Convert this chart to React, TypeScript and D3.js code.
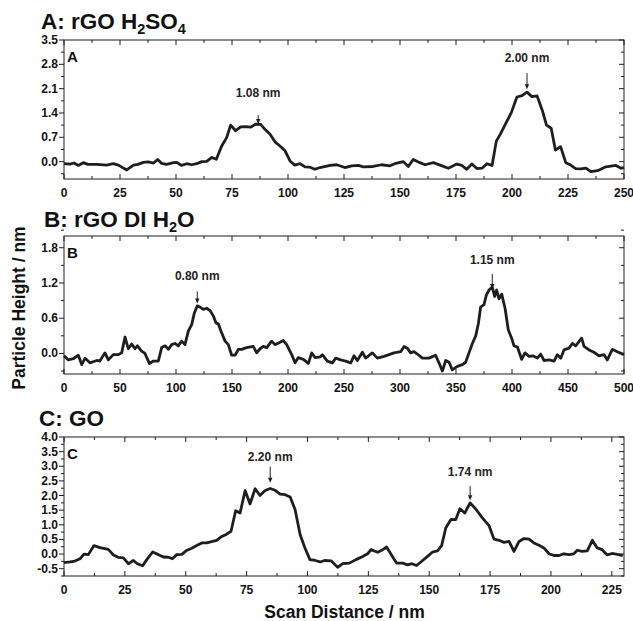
import React from "react";
import * as d3 from "d3";

// ---------- DATA ----------
const aX = [0,2.7,4.5,6.4,8.6,10.7,14.6,19,22,24.3,28,31,33,35.4,37.6,40,41.8,43.6,45.8,48.8,50.3,52.5,54.8,57,59.2,61.5,63.7,66,68,70.4,72.6,74.4,76.6,78.9,81.1,83.3,85.6,87.8,89.7,92,94.2,96.4,98.7,100.9,103,105.4,107.6,109.8,112,114.3,118.8,121.7,125.4,128.4,131.4,133.6,138,141.8,145.5,147.7,151.5,153.7,155.9,158.9,161.2,164.9,167.9,171.6,175.3,177.6,179.8,182.1,184.3,186.6,188.8,191.1,193,194.8,197,199.7,202.2,204.5,206.7,208.9,211.2,213.5,215.4,217.5,219.4,221.7,224,226.2,228.4,230.7,233,235.2,238.2,241.9,246.4,248.7,250];
const aY = [-0.06,-0.07,-0.04,-0.11,-0.03,-0.08,-0.08,-0.1,-0.06,-0.1,-0.24,-0.1,-0.08,-0.02,-0.01,-0.04,0.06,-0.05,-0.08,-0.03,-0.02,-0.11,-0.06,-0.09,-0.06,0,0.01,0.12,0.07,0.45,0.69,1.05,0.89,1.0,1.01,0.99,1.08,1.07,0.93,0.79,0.57,0.45,0.31,0.02,-0.1,-0.06,-0.15,-0.16,-0.22,-0.17,-0.11,-0.09,-0.17,-0.12,-0.11,-0.15,-0.14,-0.09,-0.12,-0.06,0,-0.14,0.06,-0.03,-0.09,-0.03,-0.1,-0.19,-0.07,-0.11,-0.22,-0.07,-0.2,-0.19,-0.06,-0.11,0.59,0.79,1.07,1.41,1.86,1.9,2.0,1.87,1.89,1.48,1.05,0.96,0.33,0.43,-0.03,-0.1,-0.2,-0.21,-0.19,-0.29,-0.26,-0.15,-0.11,-0.19,-0.17];

const bX = [0,3.9,8.3,12.8,15.8,18.8,23.2,29.2,32,36.6,39.6,44,48.5,51.5,54.5,57.4,60.4,63.4,65.5,69.3,72.3,76.2,79.8,84.2,87.2,90.2,93.2,96.1,99.1,102,105,108,111,114,116.4,119,121.4,124.4,127.4,130.4,133.3,135.7,137.8,140.8,143.8,146.7,149.7,152.7,155.7,158.6,163,169,172,175,178,181,185.4,188.4,192.9,195.8,198.8,203.3,206.3,209.2,213.7,218.2,221.1,224.1,228.6,230.7,235.1,239.6,242.6,247,251.5,256,258.9,261.9,266.4,269.3,275.3,279.8,285.7,290.2,294.6,300.6,303.6,306.5,309.5,312.5,315.5,320,325.9,331.8,334.8,337.8,340.8,343.8,346.7,351.2,355.7,358.6,361.6,364.6,367.6,370,372,375,377,379.5,382.4,384.5,386.3,388.4,390.8,393.8,396.7,399.7,401.8,404.8,408.6,411.6,415.2,418.8,422.6,425.6,428.6,433,437.5,440.5,443.5,446.4,450.9,453.9,456.8,459.8,462.2,464.3,468.8,473.2,477.7,482.1,485.1,489.6,494,500];
const bY = [-0.04,-0.11,-0.09,-0.03,-0.19,-0.08,-0.16,-0.12,-0.13,0.01,-0.11,-0.02,-0.02,0.01,0.28,0.08,0.16,0.08,0.13,0.04,0,-0.17,-0.13,-0.13,0.1,0.13,0.07,0.15,0.17,0.13,0.21,0.15,0.38,0.49,0.69,0.81,0.79,0.75,0.77,0.73,0.64,0.52,0.5,0.35,0.21,0.15,-0.03,-0.03,0.07,0.07,0.1,0.12,0.01,0.08,0.12,0.1,0.21,0.15,0.19,0.22,0.15,-0.02,-0.16,-0.07,-0.1,-0.17,0.01,-0.07,-0.06,-0.02,-0.13,-0.16,-0.08,-0.11,-0.13,-0.16,-0.04,-0.12,0.02,-0.08,0.01,-0.08,-0.05,-0.02,0.01,0.03,0.12,0.09,0.01,0.03,-0.01,-0.08,-0.08,-0.03,-0.16,-0.3,-0.12,-0.15,-0.28,-0.22,-0.19,-0.15,0.01,0.17,0.3,0.51,0.79,0.83,0.99,1.08,1.13,0.97,1.08,0.93,1.01,0.77,0.4,0.26,0.13,0.11,-0.1,0.01,-0.05,-0.04,-0.08,-0.01,-0.12,-0.11,-0.13,-0.02,-0.08,0.06,0.09,0.17,0.13,0.2,0.26,0.12,0.06,0.02,-0.04,-0.02,-0.11,0.07,0.03,-0.02];

const cX = [0,2.5,4.5,6.6,8.2,10,12.3,14.8,18.2,20.3,22.3,24.4,26.4,28.5,30.1,32.3,34,36.4,38.8,40.8,42.9,44.5,46.3,48.4,50.1,52.5,54.5,56.6,58.6,61,62.7,64.8,66.8,68.6,70.5,72.3,74.4,76.4,78.5,80.5,82.6,84.7,86.7,88.8,90.8,92.9,94.9,97,99,101,103.2,105.2,107,109.7,112.4,114.5,117.2,119.9,122.7,124.7,126.1,128.8,130.9,132.5,134.7,136.6,139.1,141.1,142.9,144.8,147.3,149.3,151.4,153.4,155.1,156.8,158.9,160.9,162.6,164.6,166.8,169.1,171.9,174.6,176.6,178.7,180.7,182.8,184.8,186.9,188.9,191,193,195.1,197.1,199.2,201.2,203.3,205.3,207.4,209.4,210.8,212.8,214.9,217,219,221,223.1,225.1,227.2,229.5];
const cY = [-0.29,-0.27,-0.24,-0.16,0,-0.02,0.29,0.22,0.16,-0.03,-0.11,-0.13,-0.33,-0.22,-0.33,-0.4,-0.19,0.07,-0.02,-0.1,-0.11,-0.16,-0.02,-0.01,0.11,0.2,0.29,0.38,0.38,0.43,0.47,0.6,0.68,0.78,1.48,1.4,2.17,1.71,2.23,2.0,2.17,2.24,2.18,2.05,2.03,1.95,1.52,0.66,0.2,-0.19,-0.22,-0.27,-0.22,-0.23,-0.45,-0.33,-0.31,-0.19,-0.08,0.01,0.15,0.06,0.15,0.24,-0.06,-0.31,-0.31,-0.37,-0.33,-0.39,-0.22,-0.08,0.07,0.11,0.29,0.89,1.18,1.18,1.55,1.4,1.75,1.54,1.23,0.97,0.51,0.47,0.4,0.43,0.09,0.43,0.53,0.51,0.38,0.3,0.21,0.01,-0.05,-0.05,0.01,-0.02,0.01,0.13,0.09,0.11,0.47,0.21,0.15,-0.03,0.02,-0.01,-0.05];

// tick values
const aXTicks = [0, 25, 50, 75, 100, 125, 150, 175, 200, 225, 250];
const aYTicks = [0.0, 0.7, 1.4, 2.1, 2.8, 3.5];
const bXTicks = [0, 50, 100, 150, 200, 250, 300, 350, 400, 450, 500];
const bYTicks = [0.0, 0.6, 1.2, 1.8];
const cXTicks = [0, 25, 50, 75, 100, 125, 150, 175, 200, 225];
const cYTicks = [-0.5, 0.0, 0.5, 1.0, 1.5, 2.0, 2.5, 3.0, 3.5, 4.0];

// annotations: x position (nm), height (nm), label
const aAnnX = [86.7, 206.7];
const aAnnY = [1.08, 2.0];
const aAnnLabels = ["1.08 nm", "2.00 nm"];
const bAnnX = [119, 382.4];
const bAnnY = [0.8, 1.15];
const bAnnLabels = ["0.80 nm", "1.15 nm"];
const cAnnX = [84.7, 166.8];
const cAnnY = [2.2, 1.74];
const cAnnLabels = ["2.20 nm", "1.74 nm"];

// ---------- LAYOUT ----------
const FONT = "'Liberation Sans', Arial, Helvetica, sans-serif";
const LEFT = 64;
const RIGHT = 624;
const INK = "#1e1e1e";

type AnnLayout = { tipOff: number; len: number; gap: number };

type PanelProps = {
  top: number;
  bottom: number;
  xs: number[];
  ys: number[];
  xDomain: [number, number];
  yDomain: [number, number];
  xTicks: number[];
  xMinorStep: number;
  yTicks: number[];
  yMinorStep: number;
  yFmt: (v: number) => string;
  letter: string;
  annX: number[];
  annY: number[];
  annLabels: string[];
  annLayout: AnnLayout[];
};

function range(a: number, b: number, step: number) {
  const out: number[] = [];
  const n = Math.round((b - a) / step);
  for (let i = 0; i <= n; i++) out.push(+(a + i * step).toFixed(6));
  return out;
}

function Panel(p: PanelProps) {
  const x = d3.scaleLinear().domain(p.xDomain).range([LEFT, RIGHT]);
  const y = d3.scaleLinear().domain(p.yDomain).range([p.bottom, p.top]);
  const line = d3
    .line<number>()
    .x((_, i) => x(p.xs[i]))
    .y((d) => y(d))
    .curve(d3.curveLinear);
  const xMinor = range(p.xDomain[0], p.xDomain[1], p.xMinorStep).filter(
    (v) => !p.xTicks.some((t) => Math.abs(t - v) < 1e-6)
  );
  const yStart = Math.ceil(p.yDomain[0] / p.yMinorStep - 1e-6) * p.yMinorStep;
  const yMinor = range(yStart, p.yDomain[1], p.yMinorStep).filter(
    (v) => !p.yTicks.some((t) => Math.abs(t - v) < 1e-6) && v >= p.yDomain[0] - 1e-6
  );
  const MAJ = 5;
  const MIN = 3;
  return (
    <g>
      <rect
        x={LEFT}
        y={p.top}
        width={RIGHT - LEFT}
        height={p.bottom - p.top}
        fill="none"
        stroke={INK}
        strokeWidth={1}
      />
      {p.xTicks.map((t) => (
        <g key={"xt" + t}>
          <line x1={x(t)} x2={x(t)} y1={p.bottom} y2={p.bottom - MAJ} stroke={INK} />
          <line x1={x(t)} x2={x(t)} y1={p.top} y2={p.top + MAJ} stroke={INK} />
          <text
            x={x(t)}
            y={p.bottom + 18}
            textAnchor="middle"
            fontFamily={FONT}
            fontWeight="bold"
            fontSize={12}
            fill="#111"
          >
            {t}
          </text>
        </g>
      ))}
      {xMinor.map((t) => (
        <g key={"xm" + t}>
          <line x1={x(t)} x2={x(t)} y1={p.bottom} y2={p.bottom - MIN} stroke={INK} />
          <line x1={x(t)} x2={x(t)} y1={p.top} y2={p.top + MIN} stroke={INK} />
        </g>
      ))}
      {p.yTicks.map((t) => (
        <g key={"yt" + t}>
          <line x1={LEFT} x2={LEFT - MAJ} y1={y(t)} y2={y(t)} stroke={INK} />
          <line x1={RIGHT} x2={RIGHT - MAJ} y1={y(t)} y2={y(t)} stroke={INK} />
          <text
            x={LEFT - 6}
            y={y(t) + 4}
            textAnchor="end"
            fontFamily={FONT}
            fontWeight="bold"
            fontSize={12}
            fill="#111"
          >
            {p.yFmt(t)}
          </text>
        </g>
      ))}
      {yMinor.map((t) => (
        <g key={"ym" + t}>
          <line x1={LEFT} x2={LEFT - MIN} y1={y(t)} y2={y(t)} stroke={INK} />
          <line x1={RIGHT} x2={RIGHT - MIN} y1={y(t)} y2={y(t)} stroke={INK} />
        </g>
      ))}
      <path
        d={line(p.ys) || ""}
        fill="none"
        stroke={INK}
        strokeWidth={2.8}
        strokeLinejoin="round"
      />
      <text
        x={LEFT + 3}
        y={p.top + 22}
        fontFamily={FONT}
        fontWeight="bold"
        fontSize={15}
        fill="#111"
      >
        {p.letter}
      </text>
      {p.annX.map((ax, i) => {
        const L = p.annLayout[i];
        const tip = y(p.annY[i]) - L.tipOff;
        const start = tip - L.len;
        const px = x(ax);
        return (
          <g key={"an" + i}>
            <line x1={px} x2={px} y1={start} y2={tip - 4} stroke={INK} strokeWidth={1} />
            <path
              d={`M${px - 2.2},${tip - 5} L${px + 2.2},${tip - 5} L${px},${tip} Z`}
              fill={INK}
            />
            <text
              x={px}
              y={start - L.gap}
              textAnchor="middle"
              fontFamily={FONT}
              fontWeight="bold"
              fontSize={12}
              fill="#222"
            >
              {p.annLabels[i]}
            </text>
          </g>
        );
      })}
    </g>
  );
}

export default function App() {
  const f1 = (v: number) => v.toFixed(1);
  return (
    <svg
      width={633}
      height={621}
      style={{ position: "absolute", left: 0, top: 0, background: "#fff" }}
    >
      <rect x={0} y={0} width={633} height={621} fill="#fff" />
      <text x={41} y={29} fontFamily={FONT} fontWeight="bold" fontSize={22.5} fill="#111">
        A: rGO H
        <tspan fontSize={14.5} dy={5}>2</tspan>
        <tspan dy={-5}>SO</tspan>
        <tspan fontSize={14.5} dy={5}>4</tspan>
      </text>
      <text x={44} y={227} fontFamily={FONT} fontWeight="bold" fontSize={22.5} fill="#111">
        B: rGO DI H
        <tspan fontSize={14.5} dy={5}>2</tspan>
        <tspan dy={-5}>O</tspan>
      </text>
      <text x={39} y={426} fontFamily={FONT} fontWeight="bold" fontSize={22.5} fill="#111">
        C: GO
      </text>

      <Panel
        top={40}
        bottom={179}
        xs={aX}
        ys={aY}
        xDomain={[0, 250]}
        yDomain={[-0.5, 3.5]}
        xTicks={aXTicks}
        xMinorStep={12.5}
        yTicks={aYTicks}
        yMinorStep={0.35}
        yFmt={f1}
        letter="A"
        annX={aAnnX}
        annY={aAnnY}
        annLabels={aAnnLabels}
        annLayout={[
          { tipOff: 0, len: 9, gap: 18 },
          { tipOff: 3, len: 16, gap: 11 },
        ]}
      />
      <Panel
        top={236}
        bottom={374}
        xs={bX}
        ys={bY}
        xDomain={[0, 500]}
        yDomain={[-0.35, 2.0]}
        xTicks={bXTicks}
        xMinorStep={25}
        yTicks={bYTicks}
        yMinorStep={0.3}
        yFmt={f1}
        letter="B"
        annX={bAnnX}
        annY={bAnnY}
        annLabels={bAnnLabels}
        annLayout={[
          { tipOff: 3, len: 12, gap: 11 },
          { tipOff: -3, len: 15, gap: 10 },
        ]}
      />
      <Panel
        top={437}
        bottom={576}
        xs={cX}
        ys={cY}
        xDomain={[0, 230]}
        yDomain={[-0.75, 4.0]}
        xTicks={cXTicks}
        xMinorStep={12.5}
        yTicks={cYTicks}
        yMinorStep={0.25}
        yFmt={f1}
        letter="C"
        annX={cAnnX}
        annY={cAnnY}
        annLabels={cAnnLabels}
        annLayout={[
          { tipOff: 7, len: 16, gap: 6 },
          { tipOff: 3, len: 14, gap: 10 },
        ]}
      />

      <text
        transform="translate(25,308) rotate(-90)"
        textAnchor="middle"
        fontFamily={FONT}
        fontWeight="bold"
        fontSize={17.5}
        fill="#111"
      >
        Particle Height / nm
      </text>
      <text
        x={344.5}
        y={618}
        textAnchor="middle"
        fontFamily={FONT}
        fontWeight="bold"
        fontSize={17.5}
        fill="#111"
      >
        Scan Distance / nm
      </text>
    </svg>
  );
}
